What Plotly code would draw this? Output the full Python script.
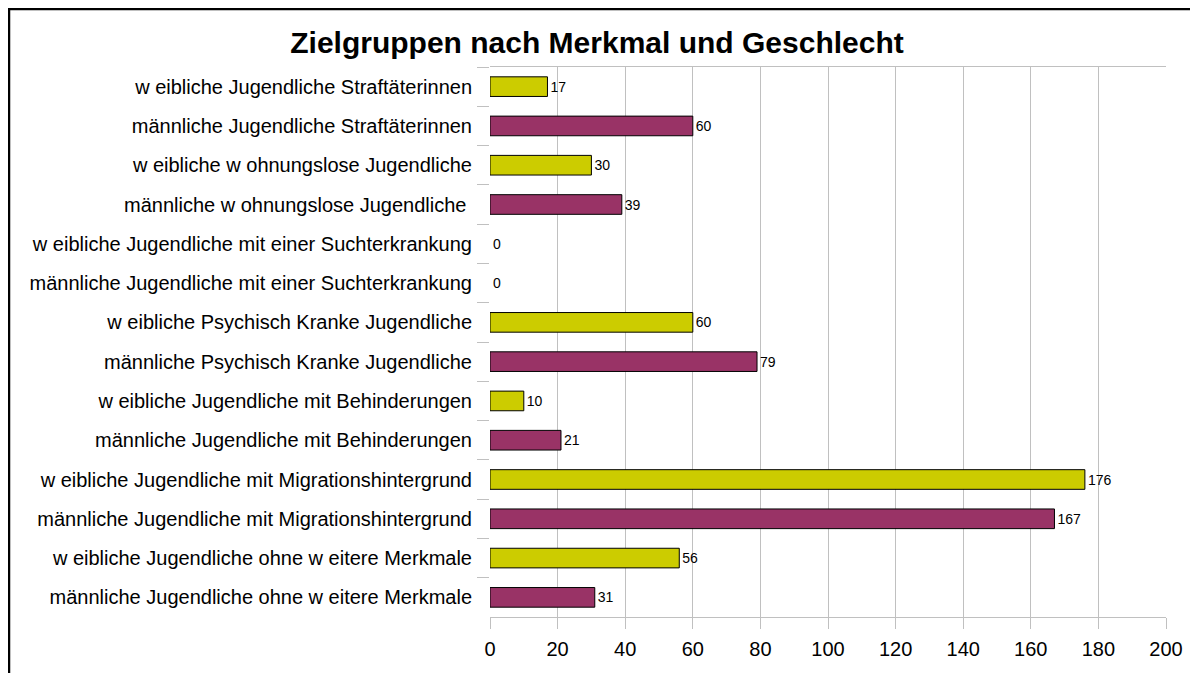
import plotly.graph_objects as go

categories = [
    "w eibliche Jugendliche Straftäterinnen",
    "männliche Jugendliche Straftäterinnen",
    "w eibliche w ohnungslose Jugendliche",
    "männliche w ohnungslose Jugendliche ",
    "w eibliche Jugendliche mit einer Suchterkrankung",
    "männliche Jugendliche mit einer Suchterkrankung",
    "w eibliche Psychisch Kranke Jugendliche",
    "männliche Psychisch Kranke Jugendliche",
    "w eibliche Jugendliche mit Behinderungen",
    "männliche Jugendliche mit Behinderungen",
    "w eibliche Jugendliche mit Migrationshintergrund",
    "männliche Jugendliche mit Migrationshintergrund",
    "w eibliche Jugendliche ohne w eitere Merkmale",
    "männliche Jugendliche ohne w eitere Merkmale",
]
values = [17, 60, 30, 39, 0, 0, 60, 79, 10, 21, 176, 167, 56, 31]
x_ticks = [0, 20, 40, 60, 80, 100, 120, 140, 160, 180, 200]

YELLOW = "#CCCC00"
MAROON = "#993366"
colors = [YELLOW if c.startswith("w ") else MAROON for c in categories]
outline_w = [1 if v > 0 else 0 for v in values]

# figure sits at an 8px page offset (body margin)
W, H = 1191, 665
L, R, T, B = 482, 33, 59, 56
FONT = "Liberation Sans, Arial, sans-serif"

fig = go.Figure(go.Bar(
    y=categories, x=values, orientation="h",
    marker=dict(color=colors, line=dict(color="black", width=outline_w)),
    width=0.5,
    text=[str(v) for v in values], textposition="outside",
    textfont=dict(size=14, color="black", family=FONT),
    cliponaxis=False,
))

pw = W - L - R
ph = H - T - B
def px_x(p):
    return (p - L) / pw
def px_y(p):
    return (H - B - p) / ph

fig.update_layout(
    width=W, height=H,
    margin=dict(l=L, r=R, t=T, b=B, autoexpand=False),
    paper_bgcolor="white", plot_bgcolor="white",
    font=dict(family=FONT, color="black"),
    showlegend=False,
    title=dict(text="<b>Zielgruppen nach Merkmal und Geschlecht</b>",
               xref="container", x=589 / W, xanchor="center",
               yref="container", y=1 - 34 / H, yanchor="middle",
               font=dict(size=30, family=FONT, color="black")),
    xaxis=dict(range=[0, 200], tickvals=x_ticks, showgrid=True,
               gridcolor="#c0c0c0", gridwidth=1, zeroline=False,
               showline=True, linecolor="#c0c0c0", linewidth=1, mirror=True,
               ticks="outside", ticklen=11, tickcolor="#c0c0c0",
               ticklabelstandoff=3,
               tickfont=dict(size=20, family=FONT, color="black")),
    yaxis=dict(autorange="reversed", type="category", tickson="boundaries",
               ticks="outside", ticklen=12, tickcolor="#c0c0c0",
               showgrid=False, showline=False, zeroline=False,
               ticklabelstandoff=17,
               tickfont=dict(size=20, family=FONT, color="black")),
    bargap=0.5,
    shapes=[
        dict(type="line", xref="paper", yref="paper",
             x0=px_x(0), x1=px_x(1182), y0=px_y(1), y1=px_y(1),
             line=dict(color="black", width=2.5)),
        dict(type="line", xref="paper", yref="paper",
             x0=px_x(1), x1=px_x(1), y0=px_y(0), y1=px_y(H + 2),
             line=dict(color="black", width=2.5)),
    ],
)

fig.write_html("out.html")
